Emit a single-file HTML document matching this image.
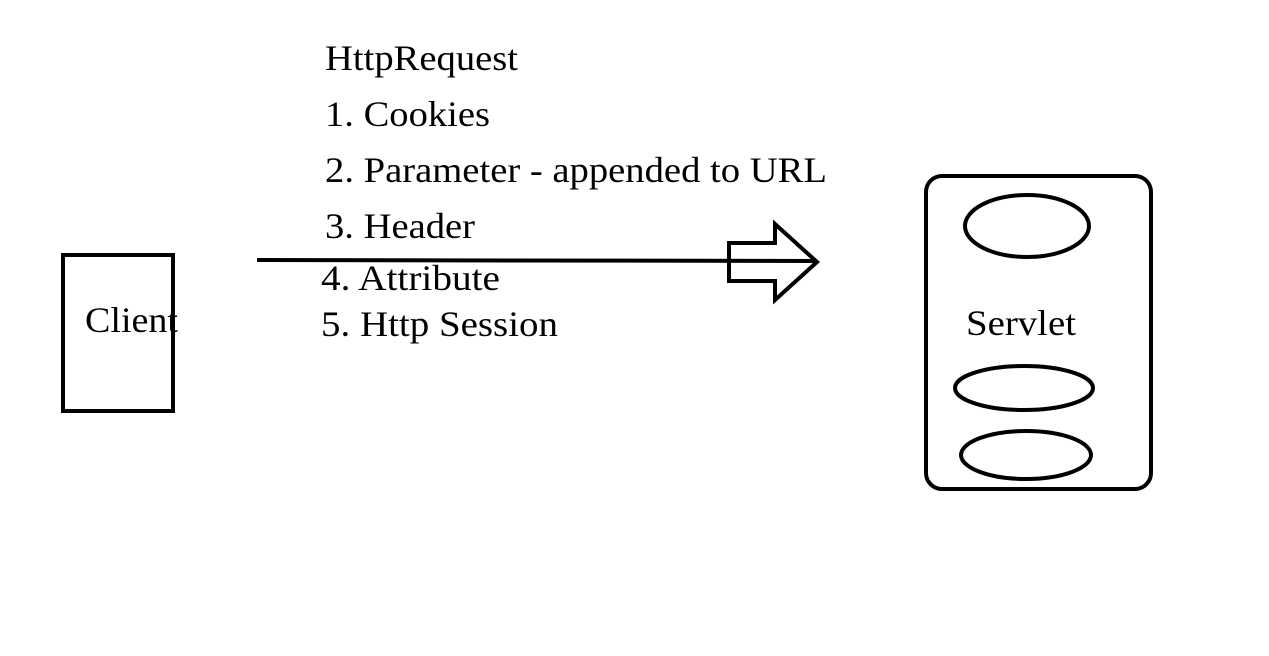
<!DOCTYPE html>
<html><head><meta charset="utf-8"><style>
html,body{margin:0;padding:0;background:#fff;}
svg{display:block}
text{font-family:"Liberation Serif",serif;font-size:36px;fill:#000}
</style></head><body>
<svg width="1269" height="656" viewBox="0 0 1269 656" xmlns="http://www.w3.org/2000/svg">
<rect x="0" y="0" width="1269" height="656" fill="#fff"/>
<rect x="63" y="255" width="110" height="156" fill="none" stroke="#000" stroke-width="4"/>
<text x="85" y="332" textLength="93" lengthAdjust="spacingAndGlyphs">Client</text>
<text x="325" y="70" textLength="193" lengthAdjust="spacingAndGlyphs">HttpRequest</text>
<text x="325" y="126" textLength="165" lengthAdjust="spacingAndGlyphs">1. Cookies</text>
<text x="325" y="182" textLength="502" lengthAdjust="spacingAndGlyphs">2. Parameter - appended to URL</text>
<text x="325" y="238" textLength="150" lengthAdjust="spacingAndGlyphs">3. Header</text>
<text x="321" y="290" textLength="179" lengthAdjust="spacingAndGlyphs">4. Attribute</text>
<text x="321" y="336" textLength="237" lengthAdjust="spacingAndGlyphs">5. Http Session</text>
<line x1="257" y1="260" x2="815" y2="261" stroke="#000" stroke-width="4"/>
<polygon points="729,243 775,243 775,224 817,262 775,300 775,281 729,281" fill="none" stroke="#000" stroke-width="4" stroke-linejoin="miter"/>
<rect x="926" y="176" width="225" height="313" rx="16" ry="16" fill="none" stroke="#000" stroke-width="4"/>
<ellipse cx="1027" cy="226" rx="62" ry="31" fill="none" stroke="#000" stroke-width="4"/>
<text x="966" y="335" textLength="110" lengthAdjust="spacingAndGlyphs">Servlet</text>
<ellipse cx="1024" cy="388" rx="69" ry="22" fill="none" stroke="#000" stroke-width="4"/>
<ellipse cx="1026" cy="455" rx="65" ry="24" fill="none" stroke="#000" stroke-width="4"/>
</svg>
</body></html>
